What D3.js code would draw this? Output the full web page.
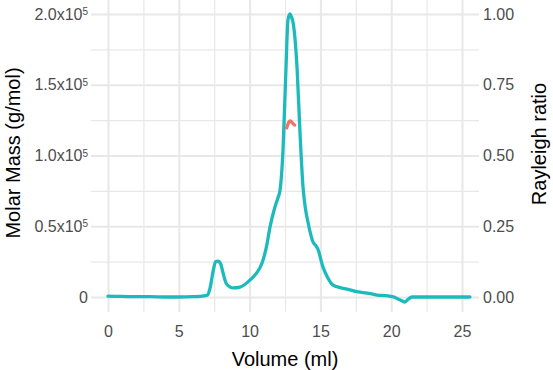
<!DOCTYPE html>
<html>
<head>
<meta charset="utf-8">
<script src="https://cdn.jsdelivr.net/npm/d3@7"></script>
<style>
  body { margin: 0; background: #fff; }
  svg text { font-family: "Liberation Sans", Arial, Helvetica, sans-serif; }
</style>
</head>
<body>
<div id="chart"></div>
<script>
// Rayleigh ratio trace (volume ml, ratio)
const rayVolume = [0, 1, 2, 3, 4, 5, 6, 6.5, 7.0, 7.2, 7.42, 7.6, 7.77, 7.95, 8.1, 8.33, 8.6, 8.83, 9.32, 10.03, 10.5, 10.88, 11.2, 11.44, 11.79, 12.0, 12.15, 12.36, 12.57, 12.71, 12.85, 12.95, 13.07, 13.35, 13.56, 13.77, 13.95, 14.12, 14.48, 14.7, 14.83, 15.18, 15.5, 15.89, 16.4, 16.88, 17.66, 18.29, 19.0, 19.77, 20.2, 20.48, 20.75, 20.97, 21.2, 21.47, 22.5, 23.5, 24.5, 25.56]
const rayRatio = [0.003, 0.002, 0.001, 0.001, 0.0, 0.0, 0.001, 0.002, 0.006, 0.03, 0.09, 0.125, 0.127, 0.118, 0.09, 0.05, 0.036, 0.032, 0.035, 0.06, 0.085, 0.12, 0.18, 0.247, 0.318, 0.35, 0.378, 0.52, 0.81, 0.98, 1.0, 0.99, 0.97, 0.81, 0.58, 0.39, 0.31, 0.265, 0.194, 0.18, 0.168, 0.106, 0.07, 0.042, 0.033, 0.028, 0.018, 0.014, 0.007, 0.004, 0.0, -0.007, -0.013, -0.018, -0.008, 0.0, 0.0, 0.0, 0.0, 0.0]

// Molar mass across the main peak (volume ml, g/mol)
const massVolume = [12.62, 12.7, 12.78, 12.86, 12.94, 13.02, 13.1, 13.18]
const massValue = [119500, 122000, 123800, 124400, 124000, 123000, 122200, 121500]

// Tick values
const xTicks = [0, 5, 10, 15, 20, 25]
const xMinor = [2.5, 7.5, 12.5, 17.5, 22.5]
const massTicks = [0, 50000, 100000, 150000, 200000]
const massMinor = [25000, 75000, 125000, 175000]
const massTickLabels = ['0', '0.5x10|5', '1.0x10|5', '1.5x10|5', '2.0x10|5']
const ratioTicks = [0, 0.25, 0.5, 0.75, 1.0]

const width = 553
const height = 370
const panel = { left: 91, right: 479, top: 0, bottom: 312 }

const svg = d3.select('#chart')
  .append('svg')
  .attr('width', width)
  .attr('height', height)

const x = d3.scaleLinear().domain([0, 25]).range([108, 462])
const yMass = d3.scaleLinear().domain([0, 200000]).range([297, 14])
const yRatio = d3.scaleLinear().domain([0, 1]).range([297, 14])

const gridColor = '#e8e8e8'

// Minor gridlines
svg.append('g')
  .attr('transform', `translate(0, ${panel.bottom})`)
  .call(d3.axisBottom(x).tickValues(xMinor).tickSize(-(panel.bottom - panel.top)).tickFormat(''))
  .call(g => g.select('.domain').remove())
  .selectAll('line').attr('stroke', gridColor).attr('stroke-width', 1.2)

svg.append('g')
  .attr('transform', `translate(${panel.left}, 0)`)
  .call(d3.axisLeft(yMass).tickValues(massMinor).tickSize(-(panel.right - panel.left)).tickFormat(''))
  .call(g => g.select('.domain').remove())
  .selectAll('line').attr('stroke', gridColor).attr('stroke-width', 1.2)

// Major gridlines
svg.append('g')
  .attr('transform', `translate(0, ${panel.bottom})`)
  .call(d3.axisBottom(x).tickValues(xTicks).tickSize(-(panel.bottom - panel.top)).tickFormat(''))
  .call(g => g.select('.domain').remove())
  .selectAll('line').attr('stroke', gridColor).attr('stroke-width', 2)

svg.append('g')
  .attr('transform', `translate(${panel.left}, 0)`)
  .call(d3.axisLeft(yMass).tickValues(massTicks).tickSize(-(panel.right - panel.left)).tickFormat(''))
  .call(g => g.select('.domain').remove())
  .selectAll('line').attr('stroke', gridColor).attr('stroke-width', 2)

// Bottom axis labels
svg.append('g')
  .attr('transform', `translate(0, ${panel.bottom})`)
  .call(d3.axisBottom(x).tickValues(xTicks).tickSize(0).tickPadding(14).tickFormat(d3.format('d')))
  .call(g => g.select('.domain').remove())
  .selectAll('text')
  .attr('fill', '#4d4d4d')
  .style('font-size', '16px')

// Left axis labels with superscript exponent
svg.append('g')
  .attr('transform', `translate(${panel.left - 3}, 0)`)
  .call(d3.axisLeft(yMass).tickValues(massTicks).tickSize(0).tickPadding(0).tickFormat(''))
  .call(g => g.select('.domain').remove())
  .selectAll('.tick text')
  .attr('fill', '#4d4d4d')
  .style('font-size', '16px')
  .each(function (d, i) {
    const parts = massTickLabels[i].split('|')
    const t = d3.select(this)
    t.append('tspan').text(parts[0])
    if (parts[1]) {
      t.append('tspan').attr('dy', '-0.45em').style('font-size', '10px').text(parts[1])
    }
  })

// Right axis labels
svg.append('g')
  .attr('transform', `translate(${panel.right + 4}, 0)`)
  .call(d3.axisRight(yRatio).tickValues(ratioTicks).tickSize(0).tickPadding(0).tickFormat(d3.format('.2f')))
  .call(g => g.select('.domain').remove())
  .selectAll('text')
  .attr('fill', '#4d4d4d')
  .style('font-size', '16px')

// Clip to panel
svg.append('clipPath')
  .attr('id', 'panel-clip')
  .append('rect')
  .attr('x', panel.left)
  .attr('y', panel.top)
  .attr('width', panel.right - panel.left)
  .attr('height', panel.bottom - panel.top)

const rayData = rayVolume.map((v, i) => ({ v, r: rayRatio[i] }))
const massData = massVolume.map((v, i) => ({ v, m: massValue[i] }))

svg.append('path')
  .datum(rayData)
  .attr('clip-path', 'url(#panel-clip)')
  .attr('fill', 'none')
  .attr('stroke', '#1dbabd')
  .attr('stroke-width', 3.3)
  .attr('stroke-linejoin', 'round')
  .attr('stroke-linecap', 'round')
  .attr('d', d3.line().curve(d3.curveMonotoneX).x(d => x(d.v)).y(d => yRatio(d.r)))

svg.append('path')
  .datum(massData)
  .attr('fill', 'none')
  .attr('stroke', '#f0736a')
  .attr('stroke-width', 3.3)
  .attr('stroke-linejoin', 'round')
  .attr('stroke-linecap', 'round')
  .attr('d', d3.line().curve(d3.curveMonotoneX).x(d => x(d.v)).y(d => yMass(d.m)))

// Axis titles
svg.append('text')
  .attr('x', (panel.left + panel.right) / 2)
  .attr('y', 366)
  .attr('text-anchor', 'middle')
  .style('font-size', '20px')
  .text('Volume (ml)')

svg.append('text')
  .attr('transform', 'translate(20, 153) rotate(-90)')
  .attr('text-anchor', 'middle')
  .style('font-size', '20px')
  .text('Molar Mass (g/mol)')

svg.append('text')
  .attr('transform', 'translate(546, 144) rotate(-90)')
  .attr('text-anchor', 'middle')
  .style('font-size', '20px')
  .text('Rayleigh ratio')
</script>
</body>
</html>
